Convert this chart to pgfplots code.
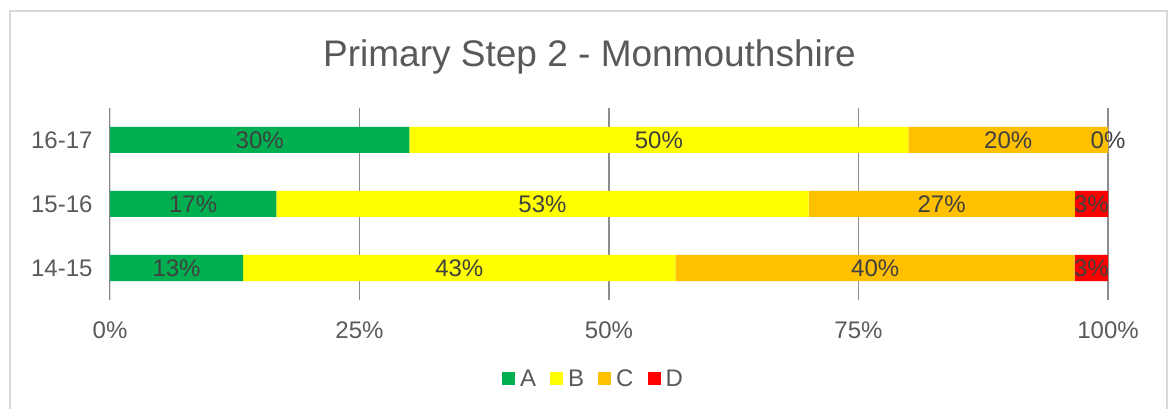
\documentclass[border=0pt]{standalone}
\usepackage{fontspec}
\setmainfont{Liberation Sans}
\usepackage{pgfplots}
\pgfplotsset{compat=1.18}
\definecolor{cA}{HTML}{00B050}
\definecolor{cB}{HTML}{FFFF00}
\definecolor{cC}{HTML}{FFC000}
\definecolor{cD}{HTML}{FF0000}
\definecolor{txt}{HTML}{595959}
\definecolor{lbl}{HTML}{404040}
\definecolor{gridc}{HTML}{8C8C8C}
\definecolor{lightc}{HTML}{D9D9D9}
\newcommand{\fs}{\fontsize{24bp}{28bp}\selectfont}
\begin{document}
\begin{tikzpicture}
\path[use as bounding box] (0bp,0bp) rectangle (1168bp,409bp);
\draw[color=lightc, line width=1.3bp] (10bp,-10bp) rectangle (1167bp,398bp);
\node[anchor=base, color=txt, font=\fontsize{37bp}{44bp}\selectfont] at (589.5bp,342bp) {Primary Step 2 - Monmouthshire};
\begin{axis}[
  at={(110bp,109bp)}, anchor=south west,
  scale only axis, width=998bp, height=192bp,
  xbar stacked, bar width=26bp,
  xmin=0, xmax=100, ymin=-0.5, ymax=2.5,
  ytick={0,1,2}, yticklabels={14-15,15-16,16-17},
  xtick={0,25,50,75,100}, xticklabels={0\%,25\%,50\%,75\%,100\%},
  major tick length=0pt,
  xmajorgrids, major grid style={color=gridc, line width=1.3bp},
  axis line style={draw=none},
  tick label style={font=\fs, color=txt},
  xticklabel style={anchor=base, yshift=-38bp},
  yticklabel style={anchor=east, xshift=-14bp},
  legend columns=4,
  legend style={at={(0.484,-0.411)}, anchor=center, draw=none, font=\fs, text=txt,
    nodes={inner sep=1bp},
    /tikz/every odd column/.append style={column sep=4bp},
    /tikz/every even column/.append style={column sep=13bp}},
  legend image code/.code={\fill[#1] (0bp,-6.5bp) rectangle (13bp,6.5bp);},
]
\addplot[fill=cA, draw=none] coordinates {(13.33,0) (16.67,1) (30,2)};
\addplot[fill=cB, draw=none] coordinates {(43.33,0) (53.33,1) (50,2)};
\addplot[fill=cC, draw=none] coordinates {(40,0) (26.67,1) (20,2)};
\addplot[fill=cD, draw=none] coordinates {(3.33,0) (3.33,1) (0,2)};
\legend{A,B,C,D}
\draw[color=lightc, line width=1.3bp] (axis cs:0,-0.5) -- (axis cs:0,2.5);
\end{axis}
\begin{axis}[
  at={(110bp,109bp)}, anchor=south west,
  scale only axis, width=998bp, height=192bp,
  xmin=0, xmax=100, ymin=-0.5, ymax=2.5, hide axis]
\addplot[only marks, mark=text, text mark={}, mark size=0pt,
  point meta=explicit symbolic, nodes near coords={\pgfplotspointmeta\%},
  nodes near coords style={anchor=center, color=lbl, font=\fs, inner sep=0pt}]
  table[meta=lab] {
x y lab
15 2 30
55 2 50
90 2 20
100 2 0
8.33 1 17
43.33 1 53
83.33 1 27
98.33 1 3
6.67 0 13
35 0 43
76.67 0 40
98.33 0 3
};
\end{axis}
\end{tikzpicture}
\end{document}
